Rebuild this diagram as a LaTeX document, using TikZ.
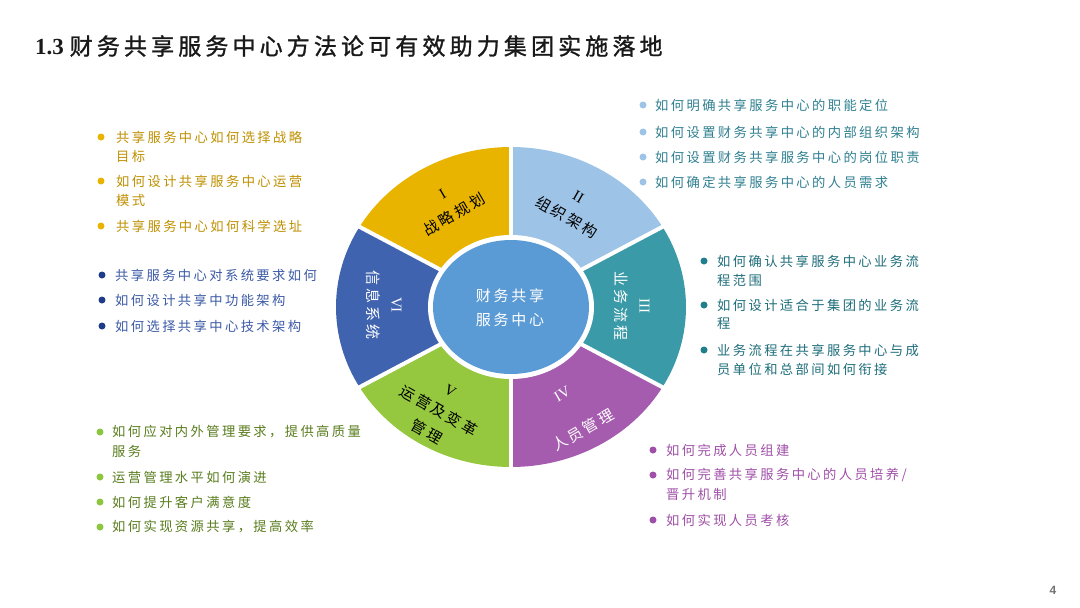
\documentclass[tikz,border=0pt]{standalone}
\usepackage{fontspec}
\setmainfont{Liberation Serif}
\newfontfamily\cjk{Noto Sans CJK SC}
\newfontfamily\cjksp[LetterSpace=18]{Noto Sans CJK SC}
\newfontfamily\cjktitle[LetterSpace=18,FakeBold=1.2]{Noto Sans CJK SC}
\newfontfamily\numfont{Liberation Sans}
\definecolor{cI}{HTML}{E9B400}
\definecolor{cII}{HTML}{9DC3E6}
\definecolor{cIII}{HTML}{3A9AA7}
\definecolor{cIV}{HTML}{A55CAF}
\definecolor{cV}{HTML}{95C83E}
\definecolor{cVI}{HTML}{3F63AF}
\definecolor{cCenter}{HTML}{5B9BD5}
\definecolor{tGold}{HTML}{BF9000}
\definecolor{tNavy}{HTML}{3C5AA6}
\definecolor{tGreen}{HTML}{5A7D1E}
\definecolor{tSky}{HTML}{2F8090}
\definecolor{tTeal}{HTML}{1E6E7A}
\definecolor{tPurple}{HTML}{A04FA8}
\definecolor{bGold}{HTML}{E9B400}
\definecolor{bNavy}{HTML}{1F3C88}
\definecolor{bGreen}{HTML}{8CC63F}
\definecolor{bSky}{HTML}{9DC3E6}
\definecolor{bTeal}{HTML}{1F7F8C}
\definecolor{bPurple}{HTML}{A04FA8}
\begin{document}
\begin{tikzpicture}[x=1pt,y=-1pt,
  li/.style={anchor=west, inner sep=0pt, font=\cjksp\fontsize{13.3}{15}\selectfont},
  dot/.style={circle, inner sep=0pt, minimum size=7pt},
  seglab/.style={align=center, inner sep=0pt, font=\cjksp\fontsize{15}{24}\selectfont},
  gap/.style={draw=white, line width=4pt}
]
\useasboundingbox (0,0) rectangle (1080,608);
\fill[white] (0,0) rectangle (1080,608);

% title
\node[anchor=west, inner sep=0pt, text=black!90] (title) at (35,46)
  {\fontsize{23}{27}\selectfont \textbf{1.3} \cjktitle 财务共享服务中心方法论可有效助力集团实施落地};

% ring
\coordinate (C) at (511,307);
\fill[cI]   (C) -- +(-150:175 and 160) arc[start angle=-150, end angle=-90, x radius=175, y radius=160] -- cycle;
\fill[cII]  (C) -- +(-90:175 and 160)  arc[start angle=-90,  end angle=-30, x radius=175, y radius=160] -- cycle;
\fill[cIII] (C) -- +(-30:175 and 160)  arc[start angle=-30,  end angle=30,  x radius=175, y radius=160] -- cycle;
\fill[cIV]  (C) -- +(30:175 and 160)   arc[start angle=30,   end angle=90,  x radius=175, y radius=160] -- cycle;
\fill[cV]   (C) -- +(90:175 and 160)   arc[start angle=90,   end angle=150, x radius=175, y radius=160] -- cycle;
\fill[cVI]  (C) -- +(150:175 and 160)  arc[start angle=150,  end angle=210, x radius=175, y radius=160] -- cycle;
\foreach \a in {30,90,150,210,270,330}
  \draw[gap] (C) -- +(\a:180 and 165);
\fill[white] (C) ellipse[x radius=83, y radius=72];
\fill[cCenter] (C) ellipse[x radius=78, y radius=67];
\node[align=center, inner sep=0pt, text=white, font=\cjksp\fontsize{15}{24}\selectfont] (center) at (510,308) {财务共享\\服务中心};

% segment labels
\node[seglab, rotate=30, text=black] (lI) at (449,205) {{\rmfamily I}\\战略规划};
\node[seglab, rotate=-30, text=black] (lII) at (572,208) {{\rmfamily II}\\组织架构};
\node[seglab, rotate=-90, text=white] (lIII) at (632,306) {{\rmfamily III}\\业务流程};
\node[seglab, rotate=30, text=white] (lIV) at (573,413) {{\rmfamily IV}\\[18pt]人员管理};
\node[seglab, rotate=-30, text=black] (lV) at (438,412) {{\rmfamily V}\\运营及变革\\管理};
\node[seglab, rotate=-90, text=white] (lVI) at (384,305) {{\rmfamily VI}\\信息系统};

% gold list
\node[dot,fill=bGold] (g1b) at (101,137) {};
\node[li,text=tGold] (g1) at (116,137) {共享服务中心如何选择战略};
\node[li,text=tGold] (g1c) at (116,156) {目标};
\node[dot,fill=bGold] (g2b) at (101,181) {};
\node[li,text=tGold] (g2) at (116,181) {如何设计共享服务中心运营};
\node[li,text=tGold] (g2c) at (116,200) {模式};
\node[dot,fill=bGold] (g3b) at (101,226) {};
\node[li,text=tGold] (g3) at (116,226) {共享服务中心如何科学选址};

% navy list
\node[dot,fill=bNavy] (n1b) at (102,275) {};
\node[li,text=tNavy] (n1) at (115,275) {共享服务中心对系统要求如何};
\node[dot,fill=bNavy] (n2b) at (102,300) {};
\node[li,text=tNavy] (n2) at (115,300) {如何设计共享中功能架构};
\node[dot,fill=bNavy] (n3b) at (102,326) {};
\node[li,text=tNavy] (n3) at (115,326) {如何选择共享中心技术架构};

% green list
\node[dot,fill=bGreen] (e1b) at (100,432) {};
\node[li,text=tGreen] (e1) at (112,432) {如何应对内外管理要求，提供高质量};
\node[li,text=tGreen] (e1c) at (112,451) {服务};
\node[dot,fill=bGreen] (e2b) at (100,477) {};
\node[li,text=tGreen] (e2) at (112,477) {运营管理水平如何演进};
\node[dot,fill=bGreen] (e3b) at (100,502) {};
\node[li,text=tGreen] (e3) at (112,502) {如何提升客户满意度};
\node[dot,fill=bGreen] (e4b) at (100,527) {};
\node[li,text=tGreen] (e4) at (112,527) {如何实现资源共享，提高效率};

% sky list
\node[dot,fill=bSky] (s1b) at (643,105) {};
\node[li,text=tSky] (s1) at (655,105) {如何明确共享服务中心的职能定位};
\node[dot,fill=bSky] (s2b) at (643,132) {};
\node[li,text=tSky] (s2) at (655,132) {如何设置财务共享中心的内部组织架构};
\node[dot,fill=bSky] (s3b) at (643,157) {};
\node[li,text=tSky] (s3) at (655,157) {如何设置财务共享服务中心的岗位职责};
\node[dot,fill=bSky] (s4b) at (643,182) {};
\node[li,text=tSky] (s4) at (655,182) {如何确定共享服务中心的人员需求};

% teal list
\node[dot,fill=bTeal] (t1b) at (704,261) {};
\node[li,text=tTeal] (t1) at (717,261) {如何确认共享服务中心业务流};
\node[li,text=tTeal] (t1c) at (717,280) {程范围};
\node[dot,fill=bTeal] (t2b) at (704,305) {};
\node[li,text=tTeal] (t2) at (717,305) {如何设计适合于集团的业务流};
\node[li,text=tTeal] (t2c) at (717,324) {程};
\node[dot,fill=bTeal] (t3b) at (704,350) {};
\node[li,text=tTeal] (t3) at (717,350) {业务流程在共享服务中心与成};
\node[li,text=tTeal] (t3c) at (717,369) {员单位和总部间如何衔接};

% purple list
\node[dot,fill=bPurple] (p1b) at (653,450) {};
\node[li,text=tPurple] (p1) at (666,450) {如何完成人员组建};
\node[dot,fill=bPurple] (p2b) at (653,475) {};
\node[li,text=tPurple] (p2) at (666,475) {如何完善共享服务中心的人员培养/};
\node[li,text=tPurple] (p2c) at (666,494) {晋升机制};
\node[dot,fill=bPurple] (p3b) at (653,520) {};
\node[li,text=tPurple] (p3) at (666,520) {如何实现人员考核};

% page number
\node[inner sep=0pt, text=black!55, font=\numfont\bfseries\fontsize{12}{14}\selectfont] (pg) at (1053,590) {4};
\end{tikzpicture}
\end{document}
